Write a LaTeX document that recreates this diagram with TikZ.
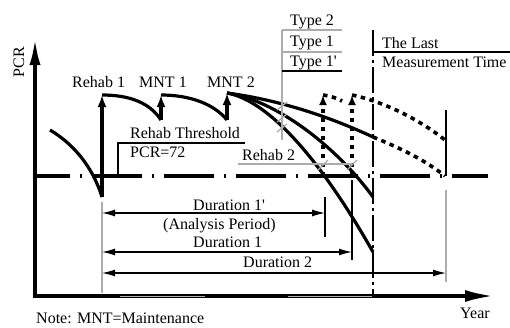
\documentclass[tikz,border=0pt]{standalone}
\usepackage{fontspec}
\setmainfont{Liberation Serif}
\usetikzlibrary{arrows.meta}
\begin{document}
\begin{tikzpicture}[x=1pt,y=-1pt,every node/.style={font=\fontsize{16}{18}\selectfont,inner sep=0pt},
  lbl/.style={anchor=base west},
  heavy/.style={line width=3.2pt},
  thinline/.style={line width=1.2pt},
  leader/.style={line width=1.3pt,gray!65},
  uparrow/.style={heavy,-{Latex[length=12pt,width=9pt]}},
  dots/.style={line width=3.6pt,dash pattern=on 4.5pt off 4.5pt},
  span/.style={thinline,{Latex[length=13pt,width=7pt]}-{Latex[length=13pt,width=7pt]}}]
\useasboundingbox (0,0) rectangle (510,327);
% axes
\coordinate (ytop) at (35,37); \coordinate (O) at (35,296); \coordinate (xend) at (495,296);
\draw[line width=4pt,{Latex[length=28pt,width=11pt]}-{Latex[length=30pt,width=12pt]}] (ytop) -- (O) -- (xend);
\foreach \a/\b in {120/205,288/372} {\draw[line width=1pt,gray!60] (\a,296) -- (\b,296);}
\node[rotate=90] (pcrTxt) at (19,62) {PCR};
\node[lbl] (yearTxt) at (460,318) {Year};
\node[lbl] (noteTxt) at (36,323) {Note: MNT=Maintenance};
% threshold
\coordinate (thrL) at (35,176); \coordinate (thrR) at (488,176);
\draw[line width=3.5pt,dash pattern=on 50pt off 10pt on 2pt off 10pt,dash phase=15pt] (thrL) -- (thrR);
\coordinate (thA) at (118,176); \coordinate (thB) at (118,143); \coordinate (thC) at (245,143);
\draw[thinline] (thA) -- (thB) -- (thC);
\node[lbl] (thrTxt) at (130,138.5) {Rehab Threshold};
\node[lbl] (thrVal) at (130,157) {PCR=72};
% deterioration and rehab/maintenance
\coordinate (s0) at (50,130);
\coordinate (b1) at (102,197); \coordinate (p1) at (102,95);
\coordinate (b2) at (161,120); \coordinate (p2) at (161,95);
\coordinate (b3) at (227,120); \coordinate (p3) at (227,93);
\draw[heavy] (s0) .. controls (72,143) and (92,165) .. (b1);
\draw[heavy] (p1) .. controls (130,95) and (150,103) .. (b2);
\draw[heavy] (p2) .. controls (190,95) and (214,104) .. (b3);
\foreach \k in {1,2,3} {\draw[uparrow] (b\k) -- (p\k);}
\node[lbl] (rehabA) at (72,87) {Rehab 1};
\node[lbl] (mntA) at (139,87) {MNT 1};
\node[lbl] (mntB) at (207,87) {MNT 2};
% three types
\coordinate (e2) at (373,137); \coordinate (e1) at (373,197); \coordinate (e1p) at (373,252);
\draw[heavy] (p3) .. controls (280,100) and (330,117) .. (e2);
\draw[heavy] (p3) .. controls (275,100) and (335,145) .. (e1);
\draw[heavy] (p3) .. controls (265,100) and (315,150) .. (e1p);
\coordinate (tyTop) at (282,30); \coordinate (tyBot) at (282,140);
\draw[leader] (tyTop) -- (tyBot);
\foreach \yy in {106,118,128} {\draw[leader] (277,\yy+4) -- (287,\yy-4);}
\foreach \yy/\c in {30/gray!65,52/gray!65,71/black} {\draw[line width=1.3pt,\c] (282,\yy) -- (342,\yy);}
\node[lbl] (typeB) at (290,25) {Type 2};
\node[lbl] (typeA) at (290,46) {Type 1};
\node[lbl] (typeAp) at (290,66) {Type 1\textquotesingle};
% rehab 2 (predicted)
\coordinate (r1pb) at (323,176); \coordinate (r1pt) at (323,95);
\coordinate (r1b) at (352,176); \coordinate (r1t) at (352,95);
\coordinate (r1pe) at (342,101);
\coordinate (d2t) at (445,140); \coordinate (d2b) at (445,176);
\draw[dots,-{Latex[length=10pt,width=8pt]}] (r1pb) -- (r1pt);
\draw[dots,-{Latex[length=10pt,width=8pt]}] (r1b) -- (r1t);
\draw[dots] (r1pt) .. controls (330,96) and (337,98) .. (r1pe);
\draw[dots] (r1t) .. controls (385,102) and (420,120) .. (d2t);
\draw[dots] (e2) .. controls (400,148) and (425,160) .. (d2b);
\node[lbl] (rehabB) at (242,160) {Rehab 2};
\draw[leader] (238,164) -- (352,164);
\foreach \xx in {318,347} {\draw[leader] (\xx,170) -- (\xx+10,160);}
% last measurement time
\coordinate (lmT) at (373,30); \coordinate (lmM) at (373,52); \coordinate (lmB) at (373,296); \coordinate (lmR) at (510,52);
\draw[line width=2.8pt,dash pattern=on 26pt off 4pt on 3pt off 4pt] (lmT) -- (lmB);
\draw[thinline] (lmM) -- (lmR);
\node[lbl] (lastA) at (382,48) {The Last};
\node[lbl] (lastB) at (382,67) {Measurement Time};
% durations
\coordinate (dL) at (102,202); \coordinate (dLb) at (102,293);
\draw[leader] (dL) -- (dLb);
\coordinate (dApL) at (102,213); \coordinate (dApR) at (325,213);
\coordinate (dAL) at (102,252); \coordinate (dAR) at (352,252);
\coordinate (dBL) at (102,273); \coordinate (dBR) at (446,273);
\draw[span] (dApL) -- (dApR);
\draw[span] (dAL) -- (dAR);
\draw[span] (dBL) -- (dBR);
\draw[thinline] (325,197) -- (325,237);
\draw[thinline] (352,180) -- (352,260);
\draw[thinline] (446,110) -- (446,176);
\draw[leader] (446,190) -- (446,282);
\node[lbl] (durAp) at (193,210) {Duration 1\textquotesingle};
\node[lbl] (anPer) at (163,229) {(Analysis Period)};
\node[lbl] (durA) at (193,247) {Duration 1};
\node[lbl] (durB) at (243,267) {Duration 2};
\end{tikzpicture}
\end{document}
